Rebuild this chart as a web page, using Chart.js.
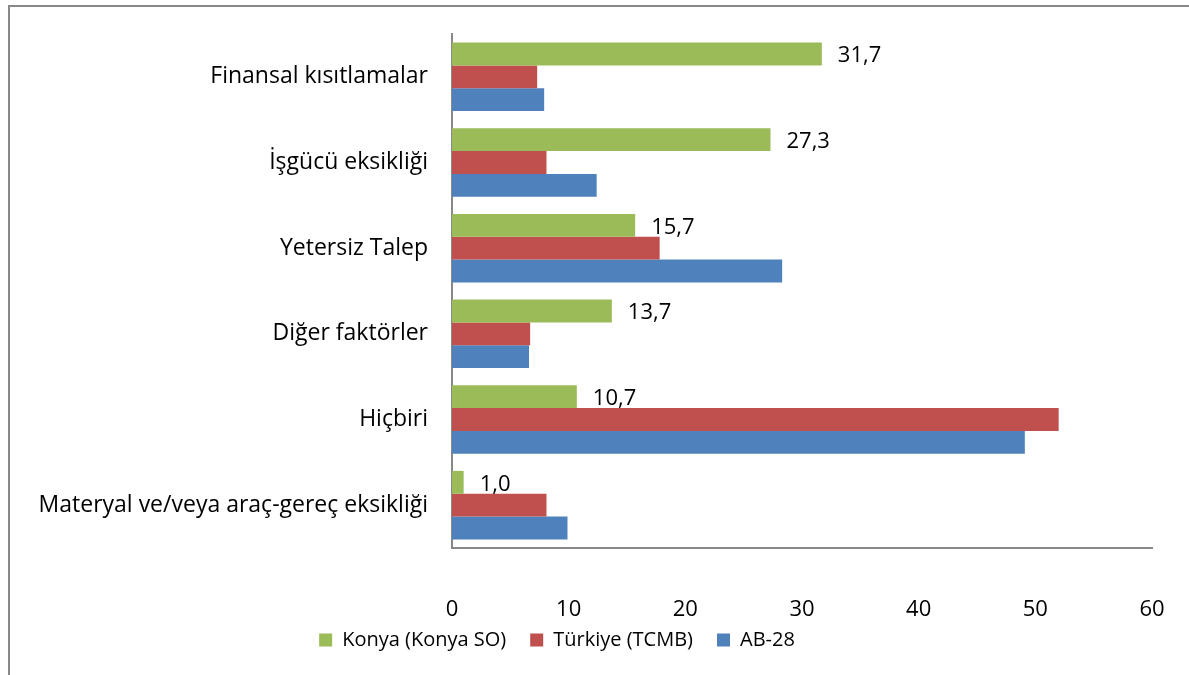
<!DOCTYPE html>
<html>
<head>
<meta charset="utf-8">
<script src="https://cdn.jsdelivr.net/npm/chart.js@4.4.1/dist/chart.umd.min.js"></script>
<style>
  html, body { margin: 0; padding: 0; background: #fff; }
  #wrap { position: relative; width: 1189px; height: 675px; overflow: hidden; }
  #frame { position: absolute; left: 8px; top: 5px; width: 1200px; height: 700px;
           border-left: 2px solid #888; border-top: 2px solid #888; }
  canvas { position: absolute; left: 0; top: 0; }
</style>
</head>
<body>
<div id="wrap">
  <div id="frame"></div>
  <canvas id="chart" width="1189" height="675"></canvas>
</div>
<script>
const categories = [
  'Finansal kısıtlamalar',
  'İşgücü eksikliği',
  'Yetersiz Talep',
  'Diğer faktörler',
  'Hiçbiri',
  'Materyal ve/veya araç-gereç eksikliği'
];
const seriesNames = ['Konya (Konya SO)', 'Türkiye (TCMB)', 'AB-28'];
const konyaValues = [31.7, 27.3, 15.7, 13.7, 10.7, 1.0];
const turkiyeValues = [7.3, 8.1, 17.8, 6.7, 52.0, 8.1];
const abValues = [7.9, 12.4, 28.3, 6.6, 49.1, 9.9];
const xMin = 0;
const xMax = 60;
const xStep = 10;

const FONT = '"Open Sans", "DejaVu Sans", sans-serif';

// values printed next to the green bars only
const valueLabels = {
  id: 'valueLabels',
  afterDatasetsDraw(chart) {
    const ctx = chart.ctx;
    const meta = chart.getDatasetMeta(0);
    ctx.save();
    ctx.font = `22px ${FONT}`;
    ctx.fillStyle = '#000';
    ctx.textBaseline = 'middle';
    ctx.textAlign = 'left';
    meta.data.forEach((bar, i) => {
      const txt = konyaValues[i].toFixed(1).replace('.', ',');
      ctx.fillText(txt, bar.x + 16, bar.y + 2);
    });
    ctx.restore();
  }
};

// legend sits right under the tick labels, tighter than chart.js stacks it
const legendNudge = {
  id: 'legendNudge',
  afterLayout(chart) {
    const lg = chart.legend;
    if (!lg) return;
    lg.top -= 17;
    lg.bottom -= 17;
  }
};

const ctx = document.getElementById('chart').getContext('2d');
new Chart(ctx, {
  type: 'bar',
  data: {
    labels: categories,
    datasets: [
      { label: seriesNames[0], data: konyaValues, backgroundColor: '#9BBB59' },
      { label: seriesNames[1], data: turkiyeValues, backgroundColor: '#C0504D' },
      { label: seriesNames[2], data: abValues, backgroundColor: '#4F81BD' }
    ]
  },
  options: {
    indexAxis: 'y',
    responsive: false,
    animation: false,
    datasets: { bar: { categoryPercentage: 0.8, barPercentage: 1.0 } },
    layout: { padding: { left: -38, right: 37, top: 34, bottom: -2 } },
    plugins: {
      legend: {
        position: 'bottom',
        labels: {
          boxWidth: 13,
          boxHeight: 13,
          padding: 24,
          color: '#000',
          font: { family: FONT, size: 20 }
        }
      },
      tooltip: { enabled: false }
    },
    scales: {
      x: {
        min: xMin,
        max: xMax,
        grid: { display: false, drawTicks: true, tickLength: 26 },
        border: { color: '#888', width: 2 },
        ticks: {
          stepSize: xStep,
          padding: 23,
          color: '#000',
          font: { family: FONT, size: 22 }
        },
        afterFit: (scale) => { scale.height = 75; }
      },
      y: {
        grid: { display: false, drawTicks: true, tickLength: 14 },
        border: { color: '#888', width: 2 },
        ticks: {
          padding: 10,
          color: '#000',
          font: { family: FONT, size: 23 }
        },
        afterFit: (scale) => { scale.width = 490; }
      }
    }
  },
  plugins: [valueLabels, legendNudge]
});
</script>
</body>
</html>
